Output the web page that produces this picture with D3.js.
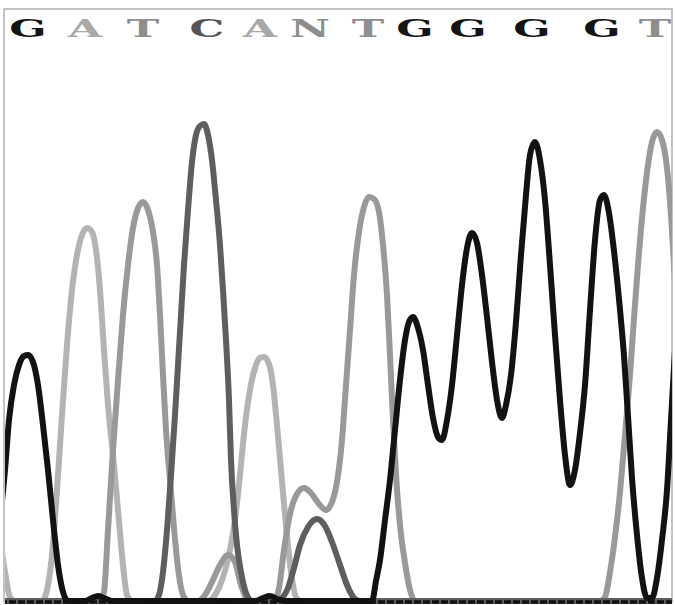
<!DOCTYPE html>
<html>
<head>
<meta charset="utf-8">
<script src="https://cdn.jsdelivr.net/npm/d3@7"></script>
<style>
  html, body { margin: 0; padding: 0; background: #fff; }
  svg { display: block; }
</style>
</head>
<body>
<div id="chart"></div>
<script>
// base calls along the top, with the scan where each one sits
const baseCalls = ['G', 'A', 'T', 'C', 'A', 'N', 'T', 'G', 'G', 'G', 'G', 'T']
const callScans = [28, 85, 143, 207, 260, 310, 368, 415, 468, 532, 602, 655]

// trace samples per channel: [scan, intensity]
const traceA = [[0,61],[5,29],[10,4],[15,0],[42,0],[47,11],[52,46],[57,111],[62,186],[67,256],[72,311],[77,346],[82,366],[87,373],[92,369],[96,351],[100,311],[104,251],[108,196],[113,146],[118,91],[123,36],[127,6],[132,0],[208,0],[215,6],[222,21],[229,46],[235,81],[240,126],[245,176],[250,211],[255,233],[260,243],[264,244],[269,237],[273,216],[277,176],[281,131],[285,86],[289,46],[293,16],[297,2],[302,0],[675,0]]

const traceT = [[0,0],[100,0],[104,9],[108,71],[113,151],[118,221],[123,286],[128,336],[133,373],[138,393],[143,399],[148,391],[153,369],[157,336],[160,286],[163,226],[166,171],[170,121],[174,73],[178,33],[183,6],[188,0],[198,0],[205,6],[212,19],[220,36],[228,46],[235,39],[241,16],[247,2],[252,0],[274,0],[279,13],[284,51],[290,87],[297,107],[304,113],[311,108],[319,97],[326,91],[332,99],[337,119],[342,161],[346,216],[350,271],[354,326],[359,369],[364,394],[369,404],[374,402],[379,389],[383,356],[387,306],[390,246],[393,181],[396,126],[400,76],[405,38],[410,11],[415,0],[600,0],[605,4],[610,29],[615,64],[620,109],[625,166],[630,226],[634,283],[638,336],[643,393],[648,436],[652,459],[657,469],[662,461],[667,433],[671,386],[675,321]]

const traceC = [[0,0],[155,0],[159,6],[163,29],[167,71],[171,126],[175,186],[178,236],[181,286],[184,336],[188,391],[192,439],[196,466],[200,475],[204,477],[208,466],[212,441],[216,401],[220,356],[223,311],[226,261],[229,201],[231,141],[234,91],[237,56],[241,29],[246,8],[252,0],[278,0],[283,4],[288,13],[294,33],[300,56],[308,74],[317,82],[325,75],[332,59],[340,36],[347,16],[354,3],[360,0],[675,0]]

const traceG = [[0,81],[5,131],[9,181],[14,216],[19,236],[24,245],[28,246],[33,239],[38,216],[43,176],[48,131],[53,81],[58,36],[63,9],[68,0],[85,0],[92,3],[98,5],[104,3],[112,0],[255,0],[263,3],[270,5],[277,2],[285,0],[372,0],[376,20],[380,41],[385,81],[390,121],[395,171],[400,221],[405,261],[409,279],[413,284],[418,273],[423,251],[428,216],[433,183],[438,164],[442,161],[447,181],[452,216],[457,266],[462,316],[467,353],[472,368],[477,358],[482,326],[487,284],[492,239],[497,201],[502,183],[506,196],[511,226],[516,279],[521,346],[526,406],[530,446],[535,459],[540,441],[545,401],[550,336],[555,266],[560,201],[565,146],[570,116],[575,131],[580,168],[585,216],[590,291],[595,361],[600,401],[604,406],[609,388],[614,350],[619,302],[624,245],[628,185],[632,123],[637,66],[642,23],[647,3],[652,3],[657,23],[662,61],[667,111],[671,181],[675,251]]

const channels = [
  {name: 'A', color: '#b3b3b3', data: traceA},
  {name: 'T', color: '#999999', data: traceT},
  {name: 'C', color: '#5e5e5e', data: traceC},
  {name: 'G', color: '#121212', data: traceG}
]
const letterColor = {G: '#141414', A: '#a8a8a8', T: '#8e8e8e', C: '#555555', N: '#8e8e8e'}

const fullWidth = 675
const fullHeight = 605
const frame = {left: 4, top: 9, right: 672, bottom: 603}

const svg = d3.select('#chart').append('svg')
  .attr('width', fullWidth)
  .attr('height', fullHeight)

const x = d3.scaleLinear().domain([0, 675]).range([0, 675])
const y = d3.scaleLinear().domain([0, 590]).range([601, 11])

svg.append('clipPath').attr('id', 'plot-clip')
  .append('rect')
  .attr('x', frame.left + 1)
  .attr('y', frame.top)
  .attr('width', frame.right - frame.left - 1)
  .attr('height', frame.bottom - frame.top + 2)

// the frame
svg.append('path')
  .attr('d', `M${frame.left},${frame.bottom}V${frame.top}H${frame.right}V${frame.bottom}`)
  .attr('fill', 'none')
  .attr('stroke', '#b0b0b0')
  .attr('stroke-width', 1.5)

const line = d3.line()
  .x(d => x(d[0]))
  .y(d => y(d[1]))
  .curve(d3.curveMonotoneX)

const plot = svg.append('g').attr('clip-path', 'url(#plot-clip)')

plot.selectAll('path.trace')
  .data(channels)
  .join('path')
  .attr('class', 'trace')
  .attr('d', d => line(d.data))
  .attr('fill', 'none')
  .attr('stroke', d => d.color)
  .attr('stroke-width', 6)
  .attr('stroke-linejoin', 'round')

// dotted black baseline at zero signal
plot.append('line')
  .attr('x1', x(0)).attr('x2', x(675))
  .attr('y1', y(0) + 1).attr('y2', y(0) + 1)
  .attr('stroke', '#111')
  .attr('stroke-width', 3.5)
  .attr('stroke-dasharray', '7,2')

// base calls, wide blocky letters
svg.append('g')
  .attr('clip-path', 'url(#plot-clip)')
  .selectAll('g.call')
  .data(baseCalls)
  .join('g')
  .attr('class', 'call')
  .attr('transform', (d, i) => `translate(${x(callScans[i])},37) scale(1.75,1)`)
  .append('text')
  .attr('text-anchor', 'middle')
  .style('font-family', 'DejaVu Serif')
  .style('font-weight', 'bold')
  .style('font-size', '25px')
  .attr('fill', d => letterColor[d])
  .text(d => d)
</script>
</body>
</html>
